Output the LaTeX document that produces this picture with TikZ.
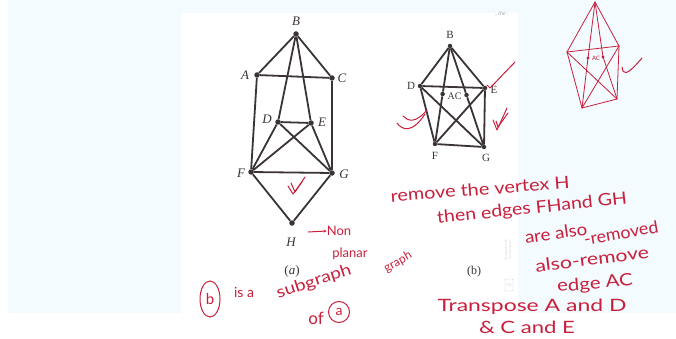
\documentclass[tikz,border=0pt]{standalone}
\usepackage{fontspec}
\setmainfont{Liberation Serif}
\newfontfamily\hand{Lato}
\usetikzlibrary{arrows.meta,shapes.geometric}
\definecolor{pale}{HTML}{F3FBFE}
\definecolor{ink}{HTML}{3A3338}
\definecolor{pen}{HTML}{C8203C}
\begin{document}
\begin{tikzpicture}[x=1pt,y=-1pt,
  vtx/.style={circle,fill=ink,inner sep=0pt,minimum size=5.5pt},
  vtxb/.style={circle,fill=ink,inner sep=0pt,minimum size=4.5pt},
  edge/.style={draw=ink,line width=1.8pt},
  lbl/.style={font=\fontsize{13}{13}\selectfont\itshape,text=ink,inner sep=0pt},
  lblb/.style={font=\fontsize{11}{11}\selectfont,text=ink,inner sep=0pt},
  note/.style={font=\hand\fontsize{17}{17}\selectfont,text=pen,inner sep=0pt},
  pstroke/.style={draw=pen,line width=1pt,line cap=round,line join=round},
  sketch/.style={draw=pen,line width=0.8pt,line cap=round}]
\useasboundingbox (0,0) rectangle (676,339);
\fill[white] (0,0) rectangle (676,339);
\fill[pale] (8,0) rectangle (676,313);
\fill[white] (181,13) rectangle (518,313);

% ---------- graph (a)
\node[vtx] (aB) at (296,34) {};
\node[vtx] (aA) at (257,75) {};
\node[vtx] (aC) at (332,78) {};
\node[vtx] (aD) at (278,122) {};
\node[vtx] (aE) at (311,123) {};
\node[vtx] (aF) at (251,172) {};
\node[vtx] (aG) at (332,173) {};
\node[vtx] (aH) at (292,223) {};
\foreach \u/\v in {aB/aA,aB/aC,aA/aC,aB/aD,aB/aE,aA/aF,aC/aG,aD/aE,aD/aF,aD/aG,aE/aF,aE/aG,aF/aG,aF/aH,aG/aH}
  \draw[edge] (\u) -- (\v);
\node[lbl] (laB) at (296,21) {B};
\node[lbl] (laA) at (245,75) {A};
\node[lbl] (laC) at (342,78) {C};
\node[lbl] (laD) at (267,119) {D};
\node[lbl] (laE) at (322,122) {E};
\node[lbl] (laF) at (241,173) {F};
\node[lbl] (laG) at (344,174) {G};
\node[lbl] (laH) at (291,242) {H};
\node[font=\fontsize{13}{13}\selectfont,text=ink] (capa) at (292,271) {(\textit{a})};

% ---------- graph (b)
\node[vtxb] (bB) at (450,46) {};
\node[vtxb] (bD) at (420,86) {};
\node[vtxb] (bE) at (485,88) {};
\node[vtxb] (bA) at (442.6,94) {};
\node[vtxb] (bC) at (466.5,95) {};
\node[vtxb] (bF) at (435,144) {};
\node[vtxb] (bG) at (484,147) {};
\foreach \u/\v in {bB/bD,bB/bE,bD/bE,bB/bA,bA/bF,bB/bC,bC/bG,bD/bF,bE/bG,bF/bG,bD/bG,bE/bF}
  \draw[edge] (\u) -- (\v);
\node[lblb] (lbB) at (450,35) {B};
\node[lblb] (lbD) at (411,86) {D};
\node[lblb] (lbE) at (494,90) {E};
\node[lblb,font=\fontsize{10}{10}\selectfont] (lbAC) at (454.5,96) {AC};
\node[lblb] (lbF) at (435,156) {F};
\node[lblb] (lbG) at (486,158) {G};
\node[font=\fontsize{12}{12}\selectfont,text=ink] (capb) at (474,272) {(b)};

% ---------- scan remnants
\node[font=\fontsize{6}{6}\selectfont\itshape,text=gray!70] (cut) at (502,14) {, the .};
\node[rotate=90,font=\fontsize{3.5}{4}\selectfont\sffamily,text=gray!35,align=center] (wm) at (508,250) {Scanned with\\CamScanner};
\node[draw=gray!35,rounded corners=1pt,font=\fontsize{4}{4}\selectfont\sffamily,text=gray!40,inner sep=1pt,minimum width=8pt,minimum height=12pt] (cs) at (509,285) {CS};

% ---------- red handwriting
\node[note,font=\hand\fontsize{13}{13}\selectfont] (non) at (339,231) {Non};
\draw[pstroke,-{Stealth[length=3pt,width=3pt]}] (308,232) -- (non.west);
\node[note,font=\hand\fontsize{13}{13}\selectfont] (planar) at (350,254) {planar};
\node[note,font=\hand\fontsize{12}{12}\selectfont,rotate=30] (graph) at (398,262) {graph};

\node[draw=pen,line width=1pt,ellipse,inner sep=0pt,minimum width=20pt,minimum height=36pt] (circb) at (210,299) {};
\node[note,font=\hand\fontsize{15}{15}\selectfont] (bb) at (210,299) {b};
\node[note,font=\hand\fontsize{14}{14}\selectfont] (isa) at (244,292) {is a};
\node[note,font=\hand\fontsize{16}{16}\selectfont,rotate=18,xscale=1.2] (subg) at (314,282) {subgraph};
\node[note,font=\hand\fontsize{17}{17}\selectfont] (of) at (316,318) {of};
\node[draw=pen,line width=1pt,circle,inner sep=0pt,minimum size=21pt] (circa) at (339,312) {};
\node[note,font=\hand\fontsize{14}{14}\selectfont] (aa) at (339,312) {a};

\node[note,rotate=4.5,xscale=1.17] (t1) at (480,189) {remove the vertex H};
\node[note,rotate=6,xscale=1.15] (t2) at (532,209) {then edges FHand GH};
\node[note,rotate=8,xscale=1.1] (t3) at (556,233) {are also};
\node[note,rotate=10,xscale=1.05] (t4) at (621,233) {-removed};
\node[note,rotate=7,xscale=1.25] (t5) at (592,259) {also-remove};
\node[note,rotate=5,xscale=1.2] (t6) at (595,284) {edge AC};
\node[note,xscale=1.35] (t7) at (532,307) {Transpose A and D};
\node[note,xscale=1.3] (t8) at (527,327) {\& C and E};

% check marks
\draw[pstroke] (291,183) -- (295,192) -- (305,177);
\draw[pstroke] (288,186) -- (293,194) -- (302,182);
\draw[pstroke] (403,116) .. controls (408,121) and (415,124) .. (427,110);
\draw[pstroke] (397,123) .. controls (402,130) and (412,134) .. (425,114);
\draw[pstroke] (487,85) -- (490,88) -- (515,62);
\draw[pstroke] (493,120) -- (497,130) -- (507,108);
\draw[pstroke] (496,121) -- (498,127) -- (508,113);
\draw[pstroke] (622,67) .. controls (623,74) and (625,78) .. (642,58);

% ---------- red sketch (top right)
\coordinate (sP) at (595,2);
\coordinate (sL) at (567,52);
\coordinate (sR) at (619,46);
\coordinate (sBL) at (582,108);
\coordinate (sBR) at (617,99);
\coordinate (sa) at (588,58);
\coordinate (sc) at (603,57);
\foreach \u/\v in {sP/sL,sP/sR,sL/sR,sP/sa,sa/sBL,sP/sc,sc/sBR,sL/sBL,sR/sBR,sBL/sBR,sL/sBR,sR/sBL}
  \draw[sketch] (\u) -- (\v);
\fill[pen] (sa) circle (1.6pt);
\fill[pen] (sc) circle (1.6pt);
\node[font=\hand\fontsize{6}{6}\selectfont,text=pen,inner sep=0pt] (sAC) at (596,58) {AC};
\end{tikzpicture}
\end{document}
